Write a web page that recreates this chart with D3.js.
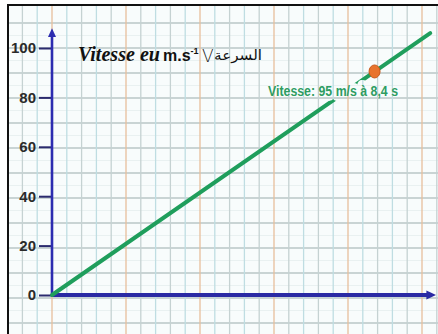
<!DOCTYPE html>
<html><head><meta charset="utf-8">
<script src="https://cdn.jsdelivr.net/npm/d3@7"></script>
<style>html,body{margin:0;padding:0;background:#fff;overflow:hidden}</style>
</head><body>
<svg id="c" width="438" height="334"></svg>
<script>
// ---- data ----
const yTicks = [0, 20, 40, 60, 80, 100];
const lineTime = [0, 9.85];          // s
const lineSpeed = [0, 106];          // m/s
const markerTime = [8.4];
const markerSpeed = [90.5];
const markerLabel = ["Vitesse: 95 m/s à 8,4 s"];
const titleLatin = "Vitesse eu";
const titleUnit = "m.s";
const titleExp = "-1";
const titleSym = "V";
const titleArabic = "السرعة";

// ---- layout ----
const svg = d3.select("#c");
const X0 = 52, Y0 = 295;
const x = d3.scaleLinear().domain([0, 10]).range([X0, 436]);
const y = d3.scaleLinear().domain([0, 100]).range([Y0, 48]);
const labelFont = "'Liberation Sans Narrow', 'Arial Narrow', sans-serif";

// paper background
svg.append("rect").attr("x", 8).attr("y", 5).attr("width", 440).attr("height", 340)
  .attr("fill", "#f8fcfc");

// grid (paper)
const cellW = 14.8;
const gx = d3.scaleLinear().domain([0, 1]).range([X0, X0 + cellW]);
const vIdx = d3.range(-2, 27);
const grid = svg.append("g");
const hy = d3.scaleLinear().domain([0, 1]).range([23, 48]);
grid.selectAll("line.hmin").data(d3.range(0, 13)).join("line")
  .attr("x1", 9).attr("x2", 438)
  .attr("y1", d => hy(d) + 12.5).attr("y2", d => hy(d) + 12.5)
  .attr("stroke", "#e9f1f1").attr("stroke-width", 1);
grid.selectAll("line.h").data(d3.range(0, 13)).join("line")
  .attr("x1", 9).attr("x2", 438)
  .attr("y1", d => hy(d)).attr("y2", d => hy(d))
  .attr("stroke", "#c9d4d4").attr("stroke-width", 2);
grid.selectAll("line.v").data(vIdx).join("line")
  .attr("x1", d => gx(d)).attr("x2", d => gx(d))
  .attr("y1", 6).attr("y2", 334)
  .attr("stroke", d => (d % 5 === 0) ? "#e7bf9c" : (Math.abs(d) % 2 === 0 ? "#c5d2d2" : "#bfdde2"))
  .attr("stroke-width", 1.3);

// border (top + left visible)
svg.append("rect").attr("x", 8).attr("y", 5).attr("width", 440).attr("height", 340)
  .attr("fill", "none").attr("stroke", "#111").attr("stroke-width", 2);

// y axis ticks & labels
const yAxis = d3.axisLeft(y).tickValues(yTicks).tickSize(13).tickPadding(3);
const ga = svg.append("g").attr("transform", `translate(${X0},0)`).call(yAxis);
ga.select(".domain").remove();
ga.selectAll(".tick line").attr("stroke", "#2b2b6e").attr("stroke-width", 2);
ga.selectAll(".tick text")
  .attr("font-family", labelFont)
  .attr("font-weight", "bold").attr("font-size", 15).attr("fill", "#2a2a2a");

// axes lines with arrows
const axisCol = "#2c2cb0";
svg.append("line").attr("x1", x(0)).attr("x2", x(0)).attr("y1", y(0)).attr("y2", y(105))
  .attr("stroke", axisCol).attr("stroke-width", 2.6);
svg.append("path")
  .attr("d", `M${x(0)},${y(108)} L${x(0) - 4},${y(104.5)} L${x(0) + 4},${y(104.5)} Z`)
  .attr("fill", axisCol);
svg.append("line").attr("x1", x(0)).attr("x2", x(9.8)).attr("y1", y(0)).attr("y2", y(0))
  .attr("stroke", "#2a2aa4").attr("stroke-width", 4);
svg.append("path")
  .attr("d", `M${x(10)},${y(0)} L${x(9.75)},${y(0) - 4.5} L${x(9.75)},${y(0) + 4.5} Z`)
  .attr("fill", "#2a2aa4");

// mask so that the label knocks out the speed line only
const defs = svg.append("defs");
const mask = defs.append("mask").attr("id", "lblmask").attr("maskUnits", "userSpaceOnUse")
  .attr("x", 0).attr("y", 0).attr("width", 438).attr("height", 334);
mask.append("rect").attr("width", 438).attr("height", 334).attr("fill", "white");
mask.selectAll("text").data(markerLabel).join("text")
  .attr("x", 268).attr("y", 96)
  .attr("textLength", 130).attr("lengthAdjust", "spacingAndGlyphs")
  .attr("font-family", labelFont).attr("font-weight", "bold").attr("font-size", 14)
  .attr("fill", "black").attr("stroke", "black").attr("stroke-width", 10)
  .attr("stroke-linejoin", "round").text(d => d);

// speed line
const pts = lineTime.map((t, i) => [t, lineSpeed[i]]);
svg.append("path").datum(pts)
  .attr("mask", "url(#lblmask)")
  .attr("d", d3.line().x(d => x(d[0])).y(d => y(d[1])))
  .attr("fill", "none").attr("stroke", "#1f9e5c").attr("stroke-width", 4)
  .attr("stroke-linecap", "round");

// marker
svg.selectAll("ellipse.m").data(markerTime).join("ellipse")
  .attr("cx", d => x(d)).attr("cy", (d, i) => y(markerSpeed[i]))
  .attr("rx", 5.5).attr("ry", 6.5)
  .attr("fill", "#e8732c").attr("stroke", "#c85a1c").attr("stroke-width", 1);

// marker label
svg.selectAll("text.lab").data(markerLabel).join("text")
  .attr("x", 268).attr("y", 96)
  .attr("textLength", 130).attr("lengthAdjust", "spacingAndGlyphs")
  .attr("font-family", labelFont)
  .attr("font-weight", "bold").attr("font-size", 14)
  .attr("fill", "#2e9c62")
  .text(d => d);

// title
svg.append("text").attr("x", 78).attr("y", 61)
  .attr("textLength", 82).attr("lengthAdjust", "spacingAndGlyphs")
  .attr("font-family", "'Liberation Serif', serif").attr("font-style", "italic")
  .attr("font-weight", "bold").attr("font-size", 20).attr("fill", "#111")
  .text(titleLatin);
const tu = svg.append("text").attr("x", 163).attr("y", 61)
  .attr("font-family", labelFont).attr("font-weight", "bold")
  .attr("font-size", 16).attr("fill", "#111");
tu.append("tspan").text(titleUnit);
tu.append("tspan").attr("dy", -7).attr("font-size", 9).text(titleExp);
svg.append("text").attr("x", 202).attr("y", 62)
  .attr("font-family", "'DejaVu Sans', sans-serif").attr("font-weight", 300)
  .attr("font-size", 17).attr("fill", "#222").text(titleSym);
svg.append("text").attr("x", 214).attr("y", 60)
  .attr("textLength", 48).attr("lengthAdjust", "spacingAndGlyphs")
  .attr("font-family", "'DejaVu Sans', sans-serif")
  .attr("font-size", 14).attr("fill", "#111").text(titleArabic);
</script>
</body></html>
